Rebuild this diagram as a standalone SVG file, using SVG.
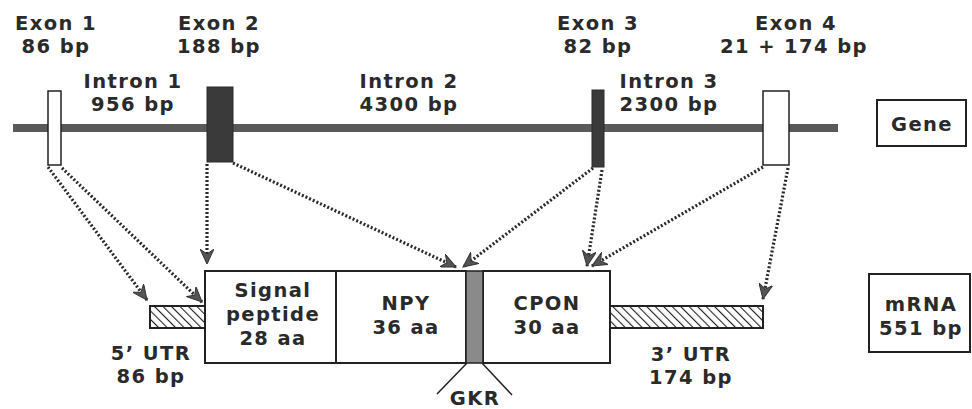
<svg xmlns="http://www.w3.org/2000/svg" width="972" height="409" viewBox="0 0 972 409">
<style>
text{font-family:"DejaVu Sans","Liberation Sans",sans-serif;font-weight:bold;font-size:19.5px;letter-spacing:1.4px;fill:#2a2a2a;text-anchor:middle}
.box{fill:#fff;stroke:#222;stroke-width:2}
.dark{fill:#3a3a3a;stroke:#2a2a2a;stroke-width:1}
.white{fill:#fff;stroke:#222;stroke-width:1.5}
.conn{fill:none;stroke:#2a2a2a;stroke-width:3.2;stroke-dasharray:2 2;marker-end:url(#arr)}
.hatch{fill:url(#hp);stroke:#222;stroke-width:2}
.gkr{stroke:#222;stroke-width:1.5;fill:none}
</style>
<defs>
<marker id="arr" markerUnits="userSpaceOnUse" markerWidth="16" markerHeight="14" refX="15" refY="7" orient="auto">
<path d="M0,0 L15,7 L0,14 L5,7 z" fill="#555" stroke="#333" stroke-width="1"/>
</marker>
<pattern id="hp" patternUnits="userSpaceOnUse" width="6" height="6" patternTransform="rotate(-45)">
<rect width="6" height="6" fill="#fff"/>
<line x1="0" y1="0" x2="0" y2="6" stroke="#222" stroke-width="2.2"/>
</pattern>
</defs>
<g id="gene-line"><rect x="13" y="124" width="825" height="8" fill="#5a5a5a"/></g>
<g id="exon1"><rect class="white" x="48" y="91" width="13" height="74"/><text x="56" y="30">Exon 1</text><text x="56" y="53">86 bp</text></g>
<g id="exon2"><rect class="dark" x="207" y="87" width="26" height="75"/><text x="219" y="30">Exon 2</text><text x="219" y="53">188 bp</text></g>
<g id="exon3"><rect class="dark" x="592" y="90" width="12" height="77"/><text x="598" y="30">Exon 3</text><text x="598" y="53">82 bp</text></g>
<g id="exon4"><rect class="white" x="763" y="91" width="26" height="74"/><text x="796" y="30">Exon 4</text><text x="794" y="53">21 + 174 bp</text></g>
<g id="intron1"><text x="133" y="88">Intron 1</text><text x="133" y="111">956 bp</text></g>
<g id="intron2"><text x="409" y="88">Intron 2</text><text x="409" y="111">4300 bp</text></g>
<g id="intron3"><text x="669" y="88">Intron 3</text><text x="669" y="111">2300 bp</text></g>
<g id="gene-label"><rect class="box" x="877" y="100" width="89" height="46"/><text x="922" y="131">Gene</text></g>
<g id="utr5"><rect class="hatch" x="150" y="306" width="55" height="22"/><text x="151" y="360">5’ UTR</text><text x="151" y="383">86 bp</text></g>
<g id="signal"><rect class="box" x="205" y="271" width="131" height="92"/><text x="273" y="297">Signal</text><text x="273" y="321">peptide</text><text x="273" y="345">28 aa</text></g>
<g id="npy"><rect class="box" x="336" y="271" width="130" height="92"/><text x="406" y="310">NPY</text><text x="406" y="334">36 aa</text></g>
<g id="cpon"><rect class="box" x="483" y="271" width="127" height="92"/><text x="547" y="310">CPON</text><text x="547" y="334">30 aa</text></g>
<g id="gkr"><rect x="466" y="271" width="17" height="92" fill="#8a8a8a" stroke="#222" stroke-width="1.5"/><path class="gkr" d="M467,363 L437,394 M482,363 L512,395"/><text x="475" y="405">GKR</text></g>
<g id="utr3"><rect class="hatch" x="610" y="306" width="153" height="22"/><text x="691" y="361">3’ UTR</text><text x="691" y="384">174 bp</text></g>
<g id="mrna-label"><rect class="box" x="869" y="274" width="101" height="78"/><text x="921" y="311">mRNA</text><text x="921" y="335">551 bp</text></g>
<g id="connectors">
<path class="conn" d="M48,167 L147,300"/>
<path class="conn" d="M62,168 L202,302"/>
<path class="conn" d="M207,164 L207,264"/>
<path class="conn" d="M233,163 L456,267"/>
<path class="conn" d="M593,168 L463,267"/>
<path class="conn" d="M602,170 L587,266"/>
<path class="conn" d="M763,167 L592,266"/>
<path class="conn" d="M788,168 L763,299"/>
</g>
</svg>
